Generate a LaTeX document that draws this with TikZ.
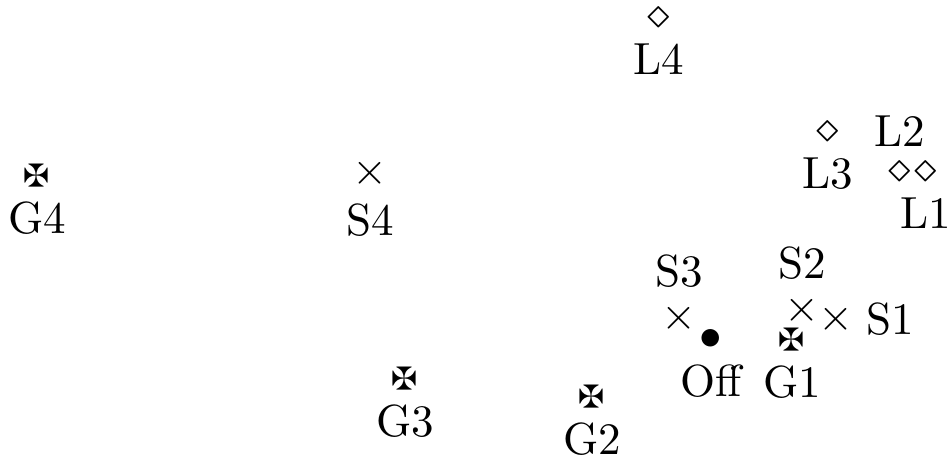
\documentclass[tikz,border=0pt]{standalone}
\usepackage{amssymb}
\usetikzlibrary{positioning}
\newcommand{\gm}{{\fontsize{7}{8}\selectfont$\maltese$}}
\begin{document}
\begin{tikzpicture}[x=0.2222pt,y=-0.2222pt,
	every node/.style={inner sep=0pt}]
		\useasboundingbox (0,0) rectangle (952,459);
		\foreach \n/\x/\y/\m/\p in {G4/37/176/\gm/below,S4/370/173/$\times$/below,
			L4/659/18/$\diamond$/below,L3/828/132/$\diamond$/below,L2/900/172/$\diamond$/above,
			L1/926/172/$\diamond$/below,S3/679/318/$\times$/above,S2/802/310/$\times$/above,
			Off/711/339/$\bullet$/below,G1/792/340/\gm/below,
			G3/405/379/\gm/below,G2/592/397/\gm/below}
		{
			\node (\n) at (\x,\y) {\m};
			\node[\p=3pt of \n] (\n-l) {\n};
		}
		\node (S1) at (836,319) {$\times$};
		\node[right=2.4pt of S1] (S1-l) {S1};
		\end{tikzpicture}
\end{document}
